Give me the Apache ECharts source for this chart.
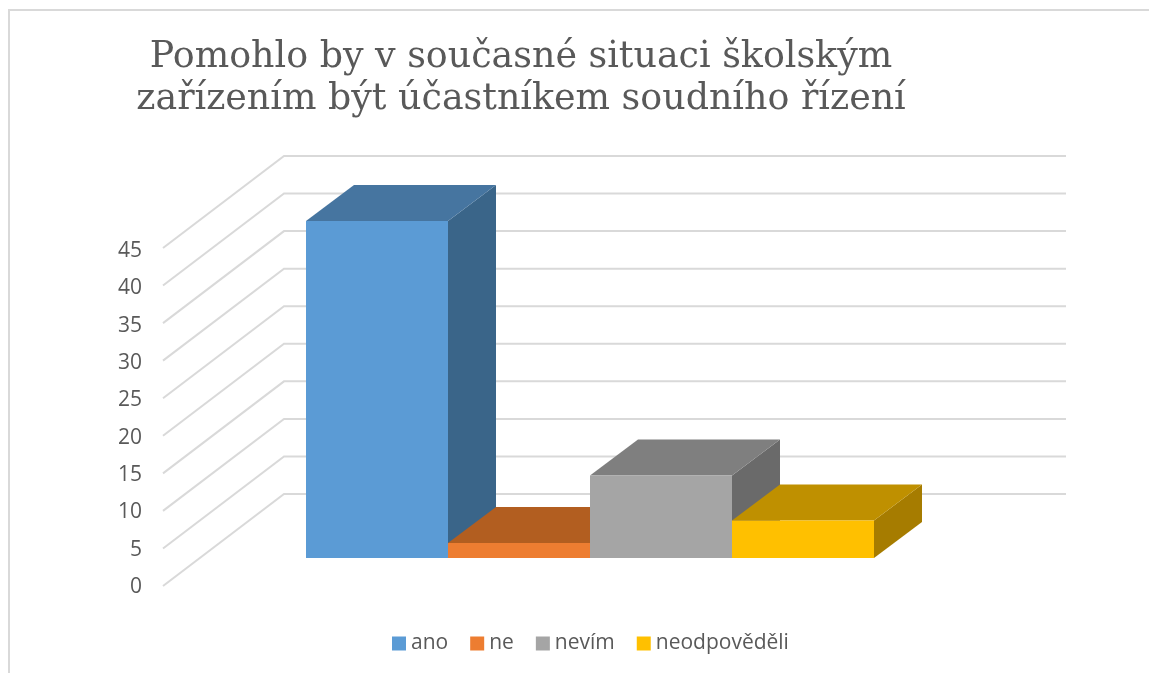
<!DOCTYPE html>
<html><head><meta charset="utf-8">
<style>html,body{margin:0;padding:0;background:#fff}#c{width:1149px;height:673px}</style>
<script src="https://cdn.jsdelivr.net/npm/echarts@6/dist/echarts.min.js"></script>
</head><body><div id="c"></div>
<script>
const titleText = 'Pomohlo by v současné situaci školským\nzařízením být účastníkem soudního řízení';
const categories = ['ano', 'ne', 'nevím', 'neodpověděli'];
const values = [45, 2, 11, 5];
const ticks = [0, 5, 10, 15, 20, 25, 30, 35, 40, 45];
const frontColors = ['#5B9BD5', '#ED7D31', '#A5A5A5', '#FFC000'];
const topColors = ['#4675A0', '#B25E20', '#7F7F7F', '#BF9000'];
const sideColors = ['#3A6589', '#9A5220', '#6A6A6A', '#A67C00'];

const wallDepth = [121, -92], wallWidth = 782;
const barDepth = [48, -36];
const ink = '#595959', gridInk = '#D9D9D9';

const chart = echarts.init(document.getElementById('c'), null, {renderer: 'canvas'});

function wallItem(params, api) {
  const p = api.coord([0, api.value(0)]);
  const x0 = params.coordSys.x;
  const bx = x0 + wallDepth[0], by = p[1] + wallDepth[1];
  return {type: 'polyline', shape: {points: [[x0, p[1]], [bx, by], [bx + wallWidth, by]]},
    style: {stroke: gridInk, lineWidth: 2, fill: null}, silent: true};
}
function barItem(i) {
  return function (params, api) {
    const cat = api.value(0), val = api.value(1);
    const size = api.size([1, 0]);
    const c = api.coord([cat, val]), b = api.coord([cat, 0]);
    const l = c[0] - size[0] / 2, r = c[0] + size[0] / 2, t = c[1], base = b[1];
    const dx = barDepth[0], dy = barDepth[1];
    return {type: 'group', children: [
      {type: 'polygon', shape: {points: [[r, t], [r + dx, t + dy], [r + dx, base + dy], [r, base]]}, style: {fill: sideColors[i]}},
      {type: 'polygon', shape: {points: [[l, t], [l + dx, t + dy], [r + dx, t + dy], [r, t]]}, style: {fill: topColors[i]}},
      {type: 'rect', shape: {x: l, y: t, width: r - l, height: base - t}, style: {fill: frontColors[i]}}
    ]};
  };
}

const barSeries = categories.map((name, i) => ({
  name, type: 'custom', xAxisIndex: 1, yAxisIndex: 1, z: 3 + i,
  itemStyle: {color: frontColors[i]},
  data: [[i, values[i]]],
  encode: {x: 0, y: 1},
  renderItem: barItem(i)
}));

chart.setOption({
  animation: false,
  backgroundColor: '#fff',
  title: {
    text: titleText, left: 516, top: 32, textAlign: 'center',
    textStyle: {fontFamily: 'DejaVu Serif', fontWeight: 'normal', fontSize: 36.4, lineHeight: 42, color: ink}
  },
  legend: {
    data: categories.map(name => ({name, icon: 'rect'})),
    left: 387, top: 628, itemWidth: 14, itemHeight: 14, itemGap: 22,
    textStyle: {fontFamily: 'Open Sans', fontSize: 21, color: ink}
  },
  graphic: [{type: 'polyline', silent: true, z: 0,
    shape: {points: [[9, 673], [9, 10], [1149, 10]]},
    style: {stroke: gridInk, lineWidth: 2, fill: null}}],
  grid: [
    {left: 163, width: 783, top: 248, height: 338},
    {left: 306, width: 568, top: 221, height: 337},
    {left: 163, width: 783, top: 251, height: 336}
  ],
  xAxis: [
    {type: 'value', gridIndex: 0, min: 0, max: 1, show: false},
    {type: 'category', gridIndex: 1, data: categories, show: false},
    {type: 'value', gridIndex: 2, min: 0, max: 1, show: false}
  ],
  yAxis: [
    {type: 'value', gridIndex: 0, min: 0, max: 45, interval: 5, show: false},
    {type: 'value', gridIndex: 1, min: 0, max: 45, show: false},
    {type: 'value', gridIndex: 2, min: 0, max: 45, interval: 5,
     axisLine: {show: false}, axisTick: {show: false}, splitLine: {show: false},
     axisLabel: {fontFamily: 'Open Sans', fontSize: 21, color: ink, margin: 21}}
  ],
  series: [{
    name: 'walls', type: 'custom', xAxisIndex: 0, yAxisIndex: 0, z: 1,
    data: ticks.map(v => [v]), encode: {y: 0}, renderItem: wallItem, silent: true
  }].concat(barSeries)
});
</script></body></html>
